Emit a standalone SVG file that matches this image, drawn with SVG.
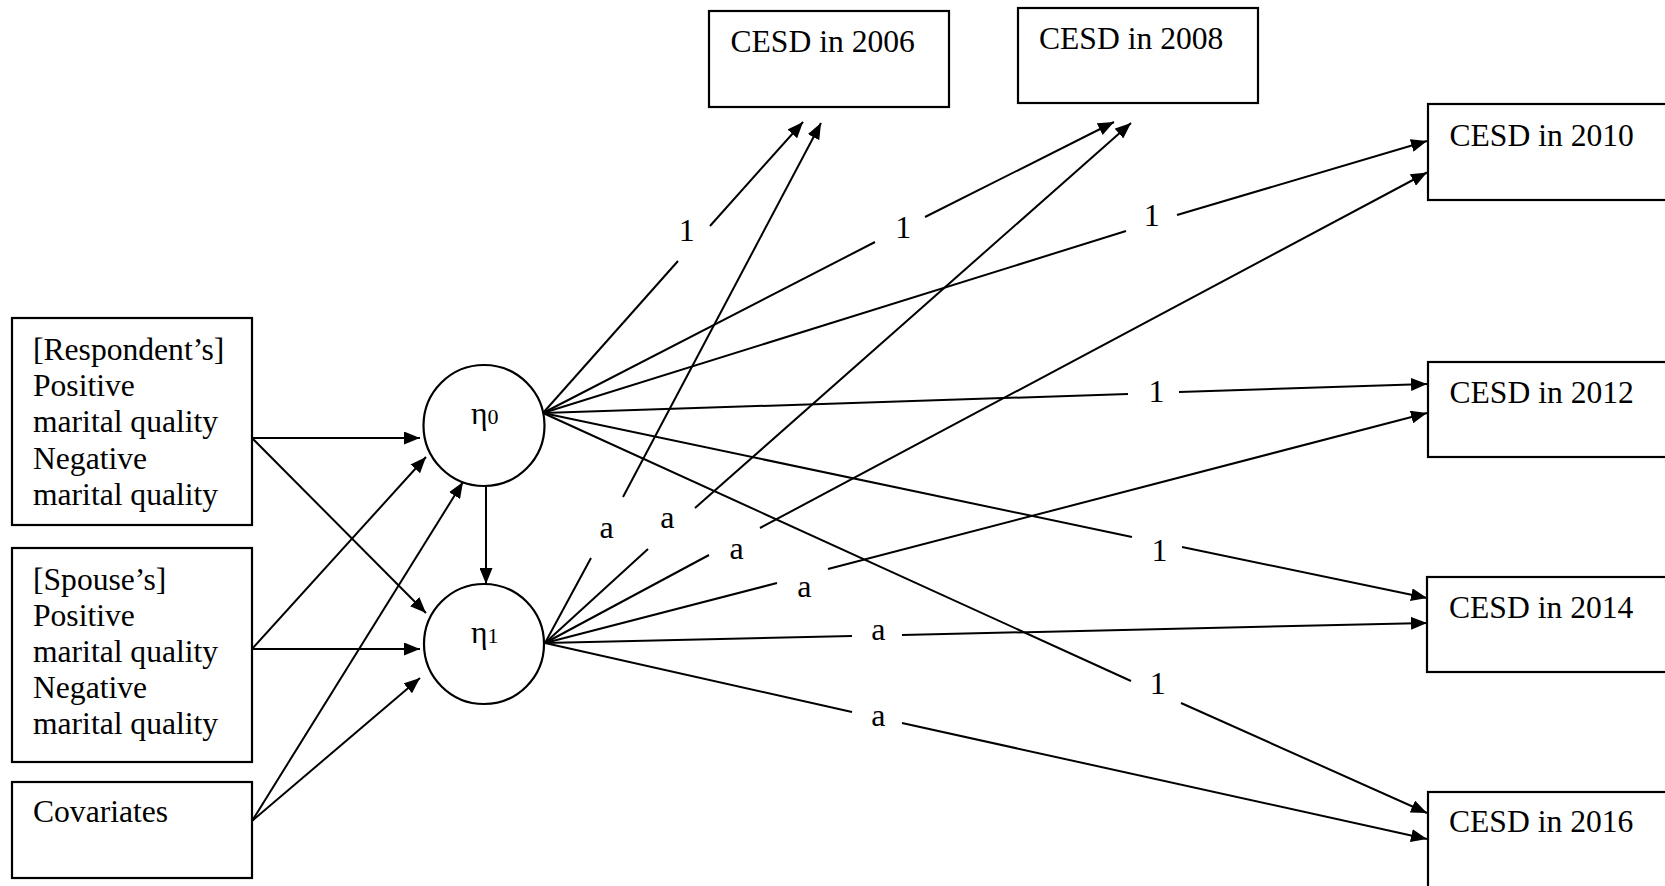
<svg xmlns="http://www.w3.org/2000/svg" width="1665" height="886" viewBox="0 0 1665 886">
<defs>
<marker id="arr" markerUnits="userSpaceOnUse" markerWidth="16" markerHeight="13" refX="16" refY="6.5" orient="auto">
<path d="M0,0 L16,6.5 L0,13 z" fill="#000"/>
</marker>
<style>
.box{fill:#fff;stroke:#000;stroke-width:2.2}
.node{fill:#fff;stroke:#000;stroke-width:2.2}
.t{font-family:"Liberation Serif","Times New Roman",serif;font-size:31.6px;fill:#000}
.lbl{font-family:"Liberation Serif","Times New Roman",serif;font-size:32px;fill:#000;text-anchor:middle}
.c line{stroke:#000;stroke-width:2;fill:none}
.c line.a{marker-end:url(#arr)}
</style>
</defs>
<rect width="1665" height="886" fill="#fff"/>

<g id="respondent">
<rect class="box" x="12" y="318" width="240" height="207"/>
<text class="t" x="33" y="360">[Respondent’s]</text>
<text class="t" x="33" y="396.2">Positive</text>
<text class="t" x="33" y="432.4">marital quality</text>
<text class="t" x="33" y="468.6">Negative</text>
<text class="t" x="33" y="504.8">marital quality</text>
</g>
<g id="spouse">
<rect class="box" x="12" y="548" width="240" height="214"/>
<text class="t" x="33" y="589.5">[Spouse’s]</text>
<text class="t" x="33" y="625.5">Positive</text>
<text class="t" x="33" y="661.5">marital quality</text>
<text class="t" x="33" y="697.5">Negative</text>
<text class="t" x="33" y="733.5">marital quality</text>
</g>
<g id="covariates">
<rect class="box" x="12" y="782" width="240" height="96"/>
<text class="t" x="33" y="822">Covariates</text>
</g>

<g id="eta0">
<circle class="node" cx="484" cy="425.5" r="60.5"/>
<text class="t" x="471" y="424" font-size="32">η<tspan font-size="22">0</tspan></text>
</g>
<g id="eta1">
<circle class="node" cx="484" cy="644" r="60"/>
<text class="t" x="471" y="643" font-size="32">η<tspan font-size="22">1</tspan></text>
</g>

<g id="cesd2006">
<rect class="box" x="709" y="11" width="240" height="96"/>
<text class="t" x="730.5" y="51.7" font-size="32">CESD in 2006</text>
</g>
<g id="cesd2008">
<rect class="box" x="1018" y="8" width="240" height="95"/>
<text class="t" x="1039" y="48.6" font-size="32">CESD in 2008</text>
</g>
<g id="cesd2010">
<rect class="box" x="1428" y="104" width="260" height="96"/>
<text class="t" x="1449.5" y="145.5" font-size="32">CESD in 2010</text>
</g>
<g id="cesd2012">
<rect class="box" x="1428" y="362" width="260" height="95"/>
<text class="t" x="1449.5" y="402.5" font-size="32">CESD in 2012</text>
</g>
<g id="cesd2014">
<rect class="box" x="1427" y="577" width="260" height="95"/>
<text class="t" x="1449" y="618" font-size="32">CESD in 2014</text>
</g>
<g id="cesd2016">
<rect class="box" x="1428" y="792" width="260" height="100"/>
<text class="t" x="1449" y="832" font-size="32">CESD in 2016</text>
</g>

<g id="connectors" class="c">
<line class="a" x1="252" y1="438" x2="420" y2="438"/>
<line class="a" x1="252" y1="438" x2="426" y2="613"/>
<line class="a" x1="252" y1="649" x2="426" y2="457"/>
<line class="a" x1="252" y1="649" x2="420" y2="649"/>
<line class="a" x1="252" y1="821" x2="463" y2="482"/>
<line class="a" x1="252" y1="821" x2="420" y2="678"/>
<line class="a" x1="486" y1="487" x2="486" y2="584"/>

<line x1="543" y1="413" x2="678" y2="261"/>
<line class="a" x1="710" y1="226" x2="803" y2="122"/>
<line x1="543" y1="413" x2="875" y2="242"/>
<line class="a" x1="925" y1="217" x2="1114" y2="122"/>
<line x1="543" y1="413" x2="1126" y2="231"/>
<line class="a" x1="1177" y1="215" x2="1427" y2="141"/>
<line x1="543" y1="413" x2="1128" y2="394"/>
<line class="a" x1="1179" y1="392" x2="1427" y2="384"/>
<line x1="543" y1="413" x2="1132" y2="537"/>
<line class="a" x1="1182" y1="547" x2="1427" y2="598"/>
<line x1="543" y1="413" x2="1131" y2="681"/>
<line class="a" x1="1181" y1="703" x2="1427" y2="813"/>

<line x1="545" y1="643" x2="591" y2="558"/>
<line class="a" x1="623" y1="497" x2="821" y2="123"/>
<line x1="545" y1="643" x2="648" y2="549"/>
<line class="a" x1="695" y1="508" x2="1131" y2="123"/>
<line x1="545" y1="643" x2="709" y2="555"/>
<line class="a" x1="760" y1="528" x2="1427" y2="172.5"/>
<line x1="545" y1="643" x2="777" y2="583"/>
<line class="a" x1="828" y1="569" x2="1427" y2="413"/>
<line x1="545" y1="643" x2="852" y2="636"/>
<line class="a" x1="902" y1="635" x2="1427" y2="623"/>
<line x1="545" y1="643" x2="852" y2="712"/>
<line class="a" x1="902" y1="723" x2="1427" y2="839"/>
</g>

<g id="labels">
<text class="lbl" x="686.7" y="241">1</text>
<text class="lbl" x="903.3" y="238.3">1</text>
<text class="lbl" x="1151.7" y="226">1</text>
<text class="lbl" x="1156.6" y="401.5">1</text>
<text class="lbl" x="1159.5" y="560.5">1</text>
<text class="lbl" x="1157.7" y="694.4">1</text>
<text class="lbl" x="606.7" y="538.3">a</text>
<text class="lbl" x="667.3" y="528.3">a</text>
<text class="lbl" x="736.7" y="559">a</text>
<text class="lbl" x="804.3" y="596.7">a</text>
<text class="lbl" x="878.3" y="640">a</text>
<text class="lbl" x="878.3" y="725.7">a</text>
</g>
</svg>
